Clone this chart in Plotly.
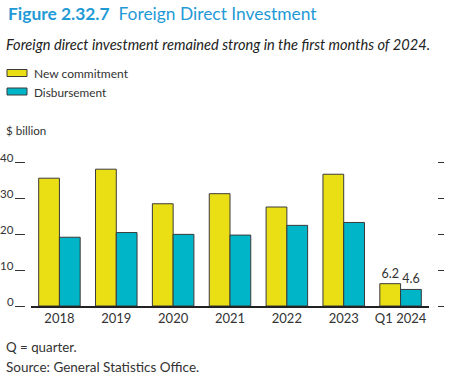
import plotly.graph_objects as go

categories = ["2018", "2019", "2020", "2021", "2022", "2023", "Q1 2024"]
new_commitment = [35.5, 38.0, 28.4, 31.2, 27.5, 36.6, 6.2]
disbursement = [19.1, 20.4, 19.9, 19.7, 22.4, 23.2, 4.6]
nc_labels = ["", "", "", "", "", "", "6.2"]
db_labels = ["", "", "", "", "", "", "4.6"]
y_ticks = [0, 10, 20, 30, 40]

FONT = "Lato"
YELLOW = "#EADE14"
TEAL = "#00B5C7"
OUTLINE = "#3a3a3a"
TXT = "#333333"

W, H = 449, 379
ml, mr, mt, mb = 25, 12, 162, 73
pw = W - ml - mr
ph = H - mt - mb

def px(x):
    return (x - ml) / pw

def py(y):
    return (H - mb - y) / ph

fig = go.Figure()
fig.add_trace(go.Bar(
    x=categories, y=new_commitment, name="New commitment",
    marker=dict(color=YELLOW, line=dict(color=OUTLINE, width=1)),
    text=nc_labels, textposition="outside", cliponaxis=False,
    textfont=dict(family=FONT, size=12.5, color=TXT),
))
fig.add_trace(go.Bar(
    x=categories, y=disbursement, name="Disbursement",
    marker=dict(color=TEAL, line=dict(color=OUTLINE, width=1)),
    text=db_labels, textposition="outside", cliponaxis=False,
    textfont=dict(family=FONT, size=12.5, color=TXT),
))
# invisible trace to activate right axis
fig.add_trace(go.Scatter(x=categories, y=[None] * len(categories), yaxis="y2",
                         showlegend=False, hoverinfo="skip"))

fig.update_layout(
    width=W, height=H,
    margin=dict(l=ml, r=mr, t=mt, b=mb, autoexpand=False),
    paper_bgcolor="white", plot_bgcolor="white",
    barmode="group", bargap=0.27, bargroupgap=0,
    showlegend=False,
    font=dict(family=FONT, color=TXT, size=13),
    xaxis=dict(
        domain=[px(31), px(429)], automargin=False,
        showgrid=False, showline=True, linecolor="#222222", linewidth=1.5,
        ticks="", tickfont=dict(family=FONT, size=13, color=TXT),
        range=[-0.5, 6.5],
    ),
    yaxis=dict(
        range=[0, 40], tickvals=y_ticks, anchor="free", position=0, automargin=False,
        showgrid=False, zeroline=False, showline=False,
        ticks="outside", ticklen=10, tickcolor="#333333", tickwidth=1,
        showticklabels=False,
    ),
    yaxis2=dict(
        range=[0, 40], tickvals=y_ticks, overlaying="y", side="right",
        anchor="free", position=1, automargin=False,
        showgrid=False, zeroline=False, showline=False,
        ticks="outside", ticklen=6, tickcolor="#333333", tickwidth=1,
        showticklabels=False,
    ),
)

# left tick labels sitting just above-left of each tick mark
for v in y_ticks:
    fig.add_annotation(xref="paper", yref="y", x=px(15.5), y=v, text=str(v),
                       xanchor="right", yanchor="middle", yshift=4.5, showarrow=False,
                       font=dict(family=FONT, size=11.5, color=TXT))

annots = [
    dict(x=px(6), y=py(13), text="<b>Figure 2.32.7</b>  Foreign Direct Investment",
         font=dict(family=FONT, size=17.4, color="#1F9AD6")),
    dict(x=px(4), y=py(44), text="<i>Foreign direct investment remained strong in the first months of 2024.</i>",
         font=dict(family=FONT, size=14.6, color="#222222")),
    dict(x=px(32), y=py(73), text="New commitment", font=dict(family=FONT, size=12, color=TXT)),
    dict(x=px(32), y=py(92), text="Disbursement", font=dict(family=FONT, size=11.8, color=TXT)),
    dict(x=px(4), y=py(130), text="$ billion", font=dict(family=FONT, size=11.6, color=TXT)),
    dict(x=px(4), y=py(347), text="Q = quarter.", font=dict(family=FONT, size=13.3, color=TXT)),
    dict(x=px(4), y=py(367), text="Source: General Statistics Office.", font=dict(family=FONT, size=13.5, color=TXT)),
]
for a in annots:
    fig.add_annotation(xref="paper", yref="paper", xanchor="left", yanchor="middle",
                       showarrow=False, **a)

for y0, col in [(69.5, YELLOW), (88, TEAL)]:
    fig.add_shape(type="rect", xref="paper", yref="paper",
                  x0=px(7), x1=px(27), y0=py(y0), y1=py(y0 + 7),
                  fillcolor=col, line=dict(color=OUTLINE, width=1))

fig.write_html("out.html", config={"displayModeBar": False},
               post_script="document.body.style.margin='0';document.body.style.overflow='hidden';")
